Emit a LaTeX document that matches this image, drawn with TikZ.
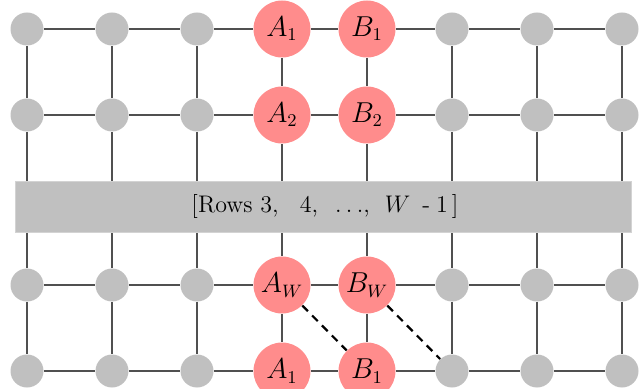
\documentclass[tikz,border=0pt]{standalone}
\definecolor{nodegray}{HTML}{C0C0C0}
\definecolor{nodered}{HTML}{FF8C8C}
\definecolor{edgegray}{HTML}{505050}
\begin{document}
\begin{tikzpicture}[x=0.5pt,y=-0.5pt,
  gnode/.style={circle,fill=nodegray,minimum size=16.5pt,inner sep=0pt},
  rnode/.style={circle,fill=nodered,minimum size=28.5pt,inner sep=0pt,font=\fontsize{13.5}{16}\selectfont},
  gridedge/.style={draw=edgegray,line width=0.9pt},
  dashlink/.style={draw=black,line width=1.1pt,dash pattern=on 4pt off 3pt},
  band/.style={rectangle,fill=nodegray,draw=nodegray!70,line width=0.4pt,minimum width=308pt,minimum height=25.5pt,inner sep=0pt},
  bandtext/.style={inner sep=0pt,font=\large}]
\useasboundingbox (0,0) rectangle (641,389);
\clip (0,0) rectangle (641,389);
\foreach \r/\y/\s in {1/29/1,2/115/2,3/285/W,4/371/1} {
  \foreach \c in {0,...,7} {
    \pgfmathsetmacro\xx{27+85*\c}
    \ifnum\c=3 \node[rnode] (n\r-\c) at (\xx,\y) {$A_{\s}$};
    \else\ifnum\c=4 \node[rnode] (n\r-\c) at (\xx,\y) {$B_{\s}$};
    \else \node[gnode] (n\r-\c) at (\xx,\y) {};
    \fi\fi
  }
}
\foreach \r in {1,2,3,4} {
  \foreach \c in {0,...,6} {
    \pgfmathtruncatemacro\cn{\c+1}
    \draw[gridedge] (n\r-\c) -- (n\r-\cn);
  }
}
\foreach \c in {0,...,7} {
  \draw[gridedge] (n1-\c) -- (n2-\c);
  \draw[gridedge] (n2-\c) -- (n3-\c);
  \draw[gridedge] (n3-\c) -- (n4-\c);
}
\node[band] (rows) at (323,206.5) {};
\node[bandtext] (rowstext) at (325,206.5) {[Rows 3,\hspace{10.5pt}4,\hspace{8.5pt}.\kern2.2pt.\kern2.2pt.,\hspace{7.5pt}$W$\hspace{6pt}-\hspace{3pt}1\hspace{2pt}]};
\draw[dashlink] (n3-3) -- (n4-4);
\draw[dashlink] (n3-4) -- (n4-5);
\end{tikzpicture}
\end{document}
